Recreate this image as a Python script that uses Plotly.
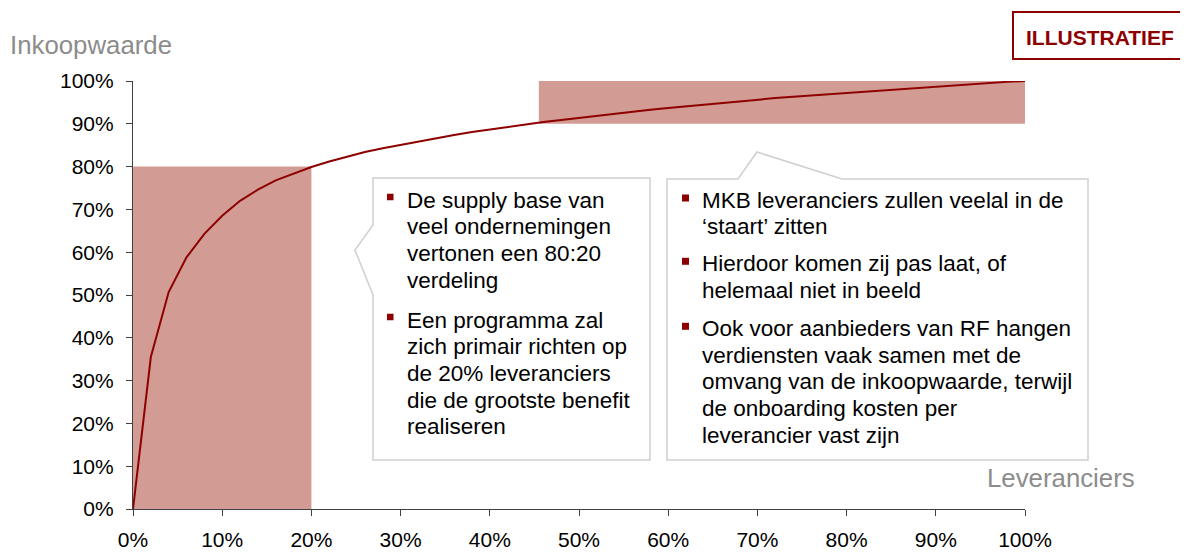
import plotly.graph_objects as go

# ---------------- data ----------------
suppliers_pct = [0, 2, 4, 6, 8, 10, 12, 14, 16, 18, 20, 22, 24, 26, 28, 30, 32, 34, 36, 38, 40,
                 42, 44, 46, 48, 50, 52, 54, 56, 58, 60, 62, 64, 66, 68, 70, 72, 74, 76, 78, 80,
                 82, 84, 86, 88, 90, 92, 94, 96, 98, 100]
value_pct = [0, 35.5, 50.7, 58.8, 64.3, 68.5, 72.0, 74.6, 76.8, 78.4, 79.9, 81.2, 82.3, 83.4,
             84.3, 85.1, 85.9, 86.7, 87.4, 88.1, 88.7, 89.3, 89.9, 90.4, 90.9, 91.4, 91.9, 92.4,
             92.8, 93.3, 93.7, 94.1, 94.5, 94.9, 95.3, 95.6, 96.0, 96.3, 96.6, 96.9, 97.2, 97.5,
             97.8, 98.1, 98.4, 98.7, 99.0, 99.3, 99.5, 99.8, 100]

tick_vals = [0, 10, 20, 30, 40, 50, 60, 70, 80, 90, 100]
tick_text = [f"{v}%" for v in tick_vals]

head_region = [0, 20, 0, 80]      # x0, x1, y0, y1
tail_region = [45.5, 100, 90, 100]

y_title = "Inkoopwaarde"
x_title = "Leveranciers"
stamp = "ILLUSTRATIEF"

box1_bullets = [
    ["De supply base van", "veel ondernemingen", "vertonen een 80:20", "verdeling"],
    ["Een programma zal", "zich primair richten op", "de 20% leveranciers",
     "die de grootste benefit", "realiseren"],
]
box2_bullets = [
    ["MKB leveranciers zullen veelal in de", "‘staart’ zitten"],
    ["Hierdoor komen zij pas laat, of", "helemaal niet in beeld"],
    ["Ook voor aanbieders van RF hangen", "verdiensten vaak samen met de",
     "omvang van de inkoopwaarde, terwijl", "de onboarding kosten per",
     "leverancier vast zijn"],
]

# ---------------- layout helpers ----------------
OFF = 8                                # page body margin of the browser
W, H = 1188 - OFF, 552 - OFF
PL, PR, PT, PB = 133, 1025, 81, 509   # plot area in window pixels
FONT = "Liberation Sans, Arial, sans-serif"
RED = "#8E0000"
FILL = "#D29B93"
GREY_BORDER = "#CFCFCF"


def px(x):
    return (x - PL) / (PR - PL)


def py(y):
    return (PB - y) / (PB - PT)


fig = go.Figure()

fig.add_trace(go.Scatter(
    x=suppliers_pct, y=value_pct, mode="lines",
    line=dict(color=RED, width=2), cliponaxis=False, hoverinfo="skip",
    showlegend=False,
))

shapes = []
for r in (head_region, tail_region):
    shapes.append(dict(type="rect", xref="x", yref="y", x0=r[0], x1=r[1], y0=r[2], y1=r[3],
                       fillcolor=FILL, line=dict(width=0), layer="below"))


def path(points):
    return "M " + " L ".join(f"{px(a):.5f},{py(b):.5f}" for a, b in points) + " Z"


# callout 1 (pointer to the left)
shapes.append(dict(type="path", xref="paper", yref="paper",
                   path=path([(373, 178), (650, 178), (650, 460), (373, 460),
                              (373, 295), (355, 250), (373, 225)]),
                   fillcolor="white", line=dict(color=GREY_BORDER, width=1.5), layer="above"))
# callout 2 (pointer to the top)
shapes.append(dict(type="path", xref="paper", yref="paper",
                   path=path([(667, 179), (738, 179), (757, 152), (842, 179), (1088, 179),
                              (1088, 460), (667, 460)]),
                   fillcolor="white", line=dict(color=GREY_BORDER, width=1.5), layer="above"))
# stamp box
shapes.append(dict(type="rect", xref="paper", yref="paper",
                   x0=px(1013), x1=px(1200), y0=py(59), y1=py(12),
                   fillcolor="white", line=dict(color=RED, width=2), layer="above"))

annotations = []


def add_text(x, y, text, size, color, xanchor="left", bold=False):
    annotations.append(dict(xref="paper", yref="paper", x=px(x), y=py(y),
                            text=(f"<b>{text}</b>" if bold else text),
                            showarrow=False, xanchor=xanchor, yanchor="middle",
                            font=dict(family=FONT, size=size, color=color)))


def bullet(x, y, s=6.5):
    shapes.append(dict(type="rect", xref="paper", yref="paper",
                       x0=px(x), x1=px(x + s), y0=py(y + s / 2), y1=py(y - s / 2),
                       fillcolor=RED, line=dict(width=0), layer="above"))


LINE = 26.7
TXT = 22.5
# box 1 text
starts1 = [200, 320]
for bl, y0 in zip(box1_bullets, starts1):
    bullet(387, y0 - 3)
    for i, t in enumerate(bl):
        add_text(405, y0 + i * LINE, t, TXT, "#000000")

# box 2 text
starts2 = [200, 263.3, 328.3]
for bl, y0 in zip(box2_bullets, starts2):
    bullet(682, y0 - 2, 7)
    for i, t in enumerate(bl):
        add_text(700, y0 + i * LINE, t, TXT, "#000000")

add_text(8, 45, y_title, 25.8, "#8C8C8C")
add_text(985, 478, x_title, 25.8, "#8C8C8C")
add_text(1024, 37, stamp, 21, RED, xanchor="left", bold=True)

axis_common = dict(
    range=[0, 100], showgrid=False, zeroline=False, showline=True,
    linecolor="#404040", linewidth=1.2, ticks="outside", ticklen=6, tickcolor="#404040",
    tickwidth=1.2, tickvals=tick_vals, ticktext=tick_text,
    tickfont=dict(family=FONT, size=21, color="#000000"), fixedrange=True,
)

fig.update_layout(
    width=W, height=H,
    margin=dict(l=PL - OFF, r=1188 - PR, t=PT - OFF, b=552 - PB, autoexpand=False),
    paper_bgcolor="white", plot_bgcolor="white",
    xaxis=dict(**axis_common, ticklabelstandoff=6),
    yaxis=dict(**axis_common, ticklabelstandoff=8),
    shapes=shapes, annotations=annotations, showlegend=False,
)

fig.write_html("out.html")
